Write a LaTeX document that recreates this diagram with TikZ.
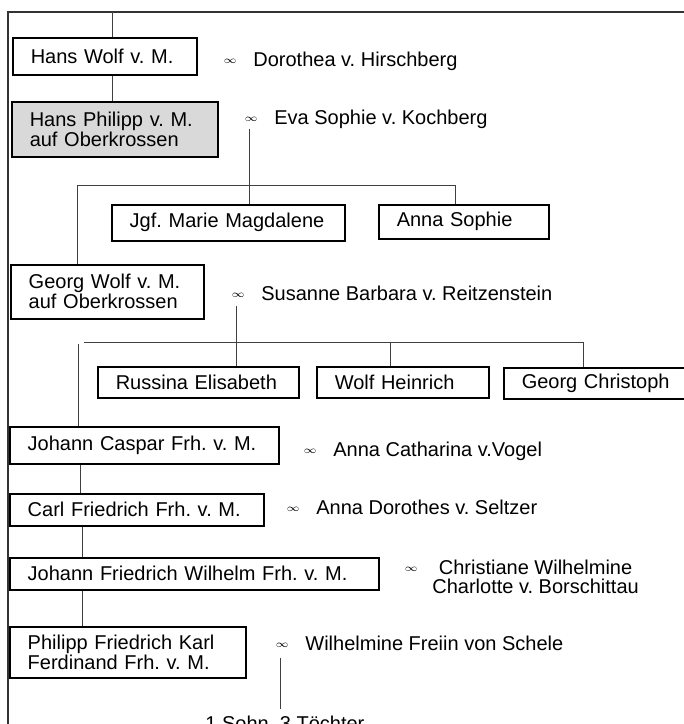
\documentclass[tikz,border=0pt]{standalone}
\usepackage{fontspec}
\setmainfont{Liberation Sans}
\usetikzlibrary{positioning}

\newcommand\marr{\makebox[15pt][l]{\raisebox{1.2pt}{\tiny$\infty$}}}

\begin{document}
\begin{tikzpicture}[
    x=0.5pt, y=-0.5pt,
    every node/.style={font=\fontsize{10}{10}\selectfont\frenchspacing},
    person/.style={draw, line width=0.75pt, anchor=north west, align=left, inner xsep=9pt, inner ysep=1pt},
    ancestor/.style={person, fill=black!15},
    spouse/.style={anchor=base west, inner sep=0pt},
    line/.style={draw=black!75, line width=0.5pt},
    frame/.style={draw=black!80, line width=1pt},
]
\useasboundingbox (0,0) rectangle (684,724);
\coordinate (frame ne) at (684,12);
\coordinate (frame nw) at (8,12);
\coordinate (frame sw) at (8,724);
\draw[frame] (frame ne) -- (frame nw) -- (frame sw);
% generations
\node[person, text width=74pt, minimum height=18.5pt] (hw) at (12,37) {Hans Wolf v. M.};
\node[spouse] (s1) at (223,66) {\marr Dorothea v. Hirschberg};
\node[ancestor, text width=85pt, minimum height=27.5pt] (hp) at (11,101) {Hans Philipp v. M.\\auf Oberkrossen};
\node[spouse] (s2) at (244,124) {\marr Eva Sophie v. Kochberg};
\node[person, text width=98.5pt, minimum height=18pt] (jgf) at (111,204) {Jgf. Marie Magdalene};
\node[person, text width=67pt, minimum height=17pt] (anna) at (378,204) {Anna Sophie};
\node[person, text width=78.5pt, minimum height=27pt] (gw) at (10,264) {Georg Wolf v. M.\\auf Oberkrossen};
\node[spouse] (s3) at (231,300) {\marr Susanne Barbara v. Reitzenstein};
\node[person, text width=82.5pt, minimum height=15.5pt] (russ) at (97,366) {Russina Elisabeth};
\node[person, text width=68pt, minimum height=15.5pt] (wh) at (316,366) {Wolf Heinrich};
\node[person, text width=76pt, minimum height=15.5pt] (gc) at (503,367) {Georg Christoph};
\node[person, text width=116.5pt, minimum height=18.5pt] (jc) at (9,426) {Johann Caspar Frh. v. M.};
\node[spouse] (s4) at (303,456) {\marr Anna Catharina v.Vogel};
\node[person, text width=109pt, minimum height=16pt] (cf) at (9,493) {Carl Friedrich Frh. v. M.};
\node[spouse] (s5) at (286,514) {\marr Anna Dorothes v. Seltzer};
\node[person, text width=166.5pt, minimum height=16pt] (jfw) at (9,557) {Johann Friedrich Wilhelm Frh. v. M.};
\node[spouse] (s6) at (404,574) {\def\arraystretch{0.9}\makebox[14pt][l]{\raisebox{1.2pt}{\tiny$\infty$}}\begin{tabular}[t]{@{}c@{}}Christiane Wilhelmine\\Charlotte v. Borschittau\end{tabular}};
\node[person, text width=100pt, minimum height=25.5pt] (pf) at (9,626) {Philipp Friedrich Karl\\Ferdinand Frh. v. M.};
\node[spouse] (s7) at (275,650) {\marr Wilhelmine Freiin von Schele};
\node[spouse, inner ysep=3pt] (kids) at (205,730) {1 Sohn, 3 Töchter};
% lines
\coordinate (top) at (112,12);
\draw[line] (top) -- (top |- hw.north);
\draw[line] ([xshift=4pt]hw.south) -- ([xshift=4pt]hw.south |- hp.north);
\coordinate[right=2.5pt of s2.south west] (m2);
\coordinate (bar1) at (77,185);
\draw[line] (m2) -- (m2 |- jgf.north);
\draw[line] (bar1) -- ([xshift=-4pt]anna.north |- bar1) -- ([xshift=-4pt]anna.north);
\draw[line] (bar1) -- (bar1 |- gw.north);
\coordinate[below right=2.5pt and 2.5pt of s3.south west] (m3);
\coordinate (bar2) at (84,342);
\coordinate (stem2) at (78,344);
\draw[line] (m3) -- (m3 |- russ.north);
\draw[line] (bar2) -- ([xshift=40pt]gc.north west |- bar2) -- ([xshift=40pt]gc.north west);
\draw[line] ([xshift=-6pt]wh.north |- bar2) -- ([xshift=-6pt]wh.north);
\draw[line] (stem2) -- (stem2 |- jc.north);
\coordinate (stem3) at (80,463);
\coordinate (stem4) at (82,525);
\draw[line] (jc.south -| stem3) -- (cf.north -| stem3);
\draw[line] (cf.south -| stem4) -- (jfw.north -| stem4);
\draw[line] (jfw.south -| stem4) -- (pf.north -| stem4);
\coordinate[below right=3.5pt and 2.5pt of s7.south west] (m7);
\draw[line] (m7) -- (m7 |- kids.north);
\end{tikzpicture}
\end{document}
